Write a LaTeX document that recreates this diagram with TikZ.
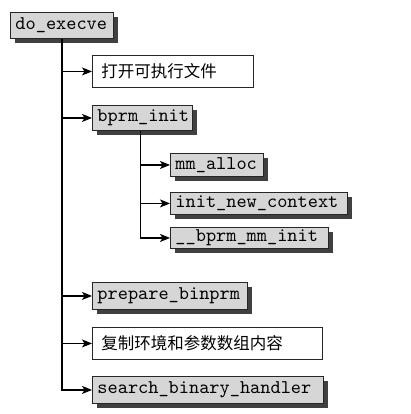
\documentclass[tikz,border=0pt]{standalone}
\usepackage{fontspec}
\setmonofont{lmmono10-regular.otf}
\newfontfamily\cjk{Noto Sans CJK SC}
\usetikzlibrary{arrows.meta,shadows}
\begin{document}
\begin{tikzpicture}[x=1pt,y=-1pt,
  basebox/.style={draw=black!85, line width=0.9pt, anchor=north west, inner xsep=5pt, inner ysep=0pt,
    align=left, font=\fontsize{19.4}{21}\selectfont\ttfamily},
  gbox/.style={basebox, fill=black!16,
    drop shadow={shadow xshift=5pt, shadow yshift=-5pt, fill=black!75, opacity=1}},
  wbox/.style={basebox, fill=white, font=\fontsize{16.5}{20}\selectfont\cjk},
  conn/.style={line width=1.2pt, -{Stealth[length=10pt,width=8pt,inset=2.5pt]}},
]
\useasboundingbox (0,0) rectangle (411,414);
\node[gbox, text width=93pt, minimum height=26pt] (exec) at (10,12) {do\_execve};
\node[wbox, text width=151pt, minimum height=32pt] (open) at (92,55) {\hspace{4pt}打开可执行文件};
\node[gbox, text width=90pt, minimum height=25pt] (bprm) at (92,105) {bprm\_init};
\node[gbox, text width=83pt, minimum height=23pt] (mmalloc) at (170,153) {mm\_alloc};
\node[gbox, text width=167pt, minimum height=22pt] (ctx) at (170,192) {init\_new\_context};
\node[gbox, text width=148pt, minimum height=21pt] (bmm) at (170,227) {\_\_bprm\_mm\_init};
\node[gbox, text width=145pt, minimum height=27pt] (prep) at (92,282) {prepare\_binprm};
\node[wbox, text width=220pt, minimum height=32pt] (copy) at (92,327) {\hspace{4pt}复制环境和参数数组内容};
\node[gbox, text width=221pt, minimum height=27pt] (search) at (92,376) {search\_binary\_handler};
\foreach \t in {open,bprm,prep,copy,search}
  \draw[conn] (exec.south) |- (\t.west);
\foreach \t in {mmalloc,ctx,bmm}
  \draw[conn] ([xshift=-2pt]bprm.south) |- (\t.west);
\end{tikzpicture}
\end{document}
